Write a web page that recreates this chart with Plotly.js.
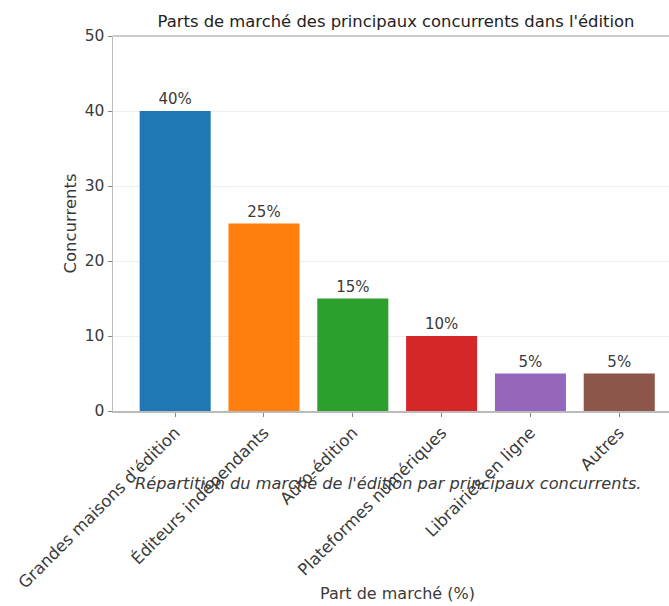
<!DOCTYPE html>
<html>
<head>
<meta charset="utf-8">
<script src="https://cdn.plot.ly/plotly-3.0.1.min.js"></script>
<style>
  html, body { margin: 0; padding: 0; background: #fff; }
  #chart { width: 669px; height: 606px; }
</style>
</head>
<body>
<div id="chart"></div>
<script>
// Market share of the main competitors in publishing
const categories = [
  "Grandes maisons d'édition",
  "Éditeurs indépendants",
  "Auto-édition",
  "Plateformes numériques",
  "Librairies en ligne",
  "Autres"
];
const shares = [40, 25, 15, 10, 5, 5];
const barColors = ["#1f77b4", "#ff7f0e", "#2ca02c", "#d62728", "#9467bd", "#8c564b"];
const yTicks = [0, 10, 20, 30, 40, 50];

const FONT = "DejaVu Sans, sans-serif";
const TEXT = "#3a3a3a";

const trace = {
  type: "bar",
  x: categories.map((_, i) => i),
  y: shares,
  width: 0.8,
  marker: { color: barColors, line: { width: 0 } },
  text: shares.map(v => v + "%"),
  textposition: "outside",
  cliponaxis: false,
  textfont: { family: FONT, size: 15, color: TEXT },
  hoverinfo: "skip"
};

const layout = {
  width: 669,
  height: 606,
  margin: { l: 113, r: 0, t: 36, b: 195, autoexpand: false },
  paper_bgcolor: "#fff",
  plot_bgcolor: "#fff",
  showlegend: false,
  font: { family: FONT, size: 14, color: TEXT },
  title: {
    text: "Parts de marché des principaux concurrents dans l'édition",
    font: { family: FONT, size: 16.4, color: "#222" },
    x: 396 / 669, xanchor: "center",
    y: 1 - 21 / 606, yanchor: "middle"
  },
  xaxis: {
    range: [-0.7, 5.56],
    tickmode: "array",
    tickvals: categories.map((_, i) => i),
    ticktext: categories,
    tickangle: -45,
    ticks: "outside",
    ticklen: 4,
    tickcolor: "#888",
    tickfont: { family: FONT, size: 16.5, color: TEXT },
    showline: true,
    linecolor: "#bbb",
    linewidth: 1.5,
    showgrid: false,
    zeroline: false,
    automargin: false,
    fixedrange: true
  },
  yaxis: {
    range: [0, 50],
    tickmode: "array",
    tickvals: yTicks,
    ticks: "outside",
    ticklen: 4,
    tickcolor: "#888",
    tickfont: { family: FONT, size: 15.5, color: TEXT },
    showline: true,
    linecolor: "#bbb",
    linewidth: 1.5,
    showgrid: true,
    gridcolor: "#eeeeee",
    gridwidth: 1,
    zeroline: false,
    title: { text: "Concurrents", font: { family: FONT, size: 16.5, color: TEXT }, standoff: 4 },
    automargin: false,
    fixedrange: true
  },
  shapes: [
    { type: "line", xref: "paper", yref: "paper", x0: 0, x1: 1, y0: 1, y1: 1,
      line: { color: "#bbb", width: 1.5 } }
  ],
  annotations: [
    {
      text: "<i>Répartition du marché de l'édition par principaux concurrents.</i>",
      xref: "paper", yref: "paper",
      x: (388 - 113) / 556, y: (411 - 484) / 375,
      xanchor: "center", yanchor: "middle",
      showarrow: false,
      font: { family: FONT, size: 16.2, color: TEXT }
    },
    {
      text: "Part de marché (%)",
      xref: "paper", yref: "paper",
      x: (397 - 113) / 556, y: (411 - 593) / 375,
      xanchor: "center", yanchor: "middle",
      showarrow: false,
      font: { family: FONT, size: 16, color: TEXT }
    }
  ]
};

Plotly.newPlot("chart", [trace], layout, { displayModeBar: false, staticPlot: true });
</script>
</body>
</html>
